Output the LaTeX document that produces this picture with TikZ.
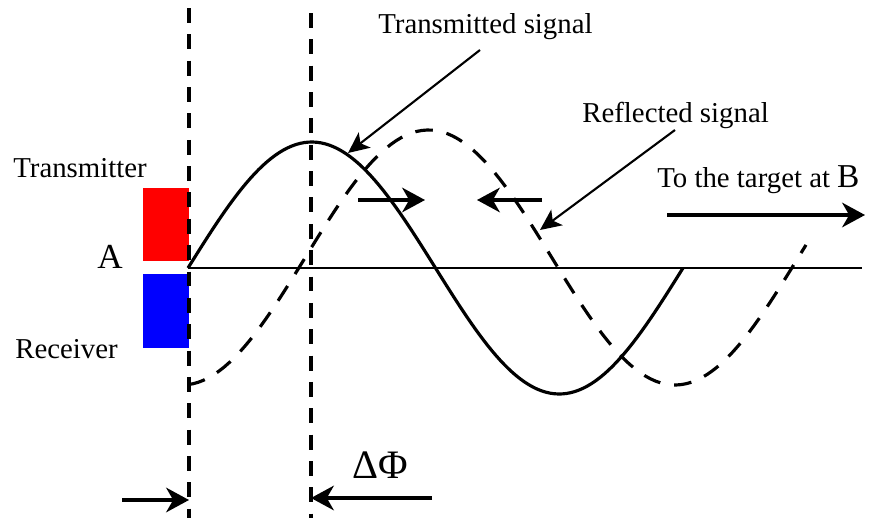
\documentclass[tikz,border=0pt]{standalone}
\usepackage{fontspec}
\setmainfont{Liberation Serif}
\usetikzlibrary{arrows.meta}
\begin{document}
\begin{tikzpicture}[x=0.02cm,y=-0.02cm,
  every node/.style={font=\fontsize{16.4}{18}\selectfont,inner sep=0pt},
  guide/.style={line width=1.8pt,dash pattern=on 8.5pt off 6.5pt},
  wave/.style={line width=1.8pt,line join=round},
  ptr/.style={-{Stealth[length=12pt,width=11pt,inset=3pt]},line width=1.2pt},
  mv/.style={-{Stealth[length=13pt,width=14pt,inset=4pt]},line width=1.8pt}]
  \useasboundingbox (0,0) rectangle (873,518);
  % transmitter and receiver
  \node[fill=red,minimum width=0.92cm,minimum height=1.46cm,anchor=north west] (tx) at (143,188) {};
  \node[fill=blue,minimum width=0.92cm,minimum height=1.48cm,anchor=north west] (rx) at (143,274) {};
  \node[anchor=base west] (txl) at (13,177) {Transmitter};
  \node[anchor=base west] (rxl) at (15,358) {Receiver};
  \node[anchor=base east,font=\fontsize{20}{22}\selectfont] (ptA) at (123,268) {A};
  % axis and the two guides
  \coordinate (o) at (188,268);
  \coordinate (axend) at (862,268);
  \draw[line width=1.7pt] (o) -- (axend);
  \coordinate (g1top) at (189,8);   \coordinate (g1bot) at (189,518);
  \coordinate (g2top) at (311,13);  \coordinate (g2bot) at (311,518);
  \draw[guide] (g1top) -- (g1bot);
  \draw[guide] (g2top) -- (g2bot);
  % signals
  \draw[wave] plot[domain=188:683,samples=120] (\x,{268-126*sin((\x-188)*0.72727)});
  \draw[wave,dash pattern=on 10pt off 8pt] plot[domain=188:806,samples=120] (\x,{257.5+127.5*cos((\x-182)*0.73022)});
  % labels and pointers
  \node[anchor=base west] (tsl) at (378,33) {Transmitted signal};
  \node[anchor=base west] (rsl) at (582,122) {Reflected signal};
  \node[anchor=base west] (tgt) at (657,187) {To the target at {\fontsize{19}{21}\selectfont B}};
  \coordinate (tsfrom) at (480,50);  \coordinate (tsto) at (348,153);
  \coordinate (rsfrom) at (675,130); \coordinate (rsto) at (540,230);
  \draw[ptr] (tsfrom) -- (tsto);
  \draw[ptr] (rsfrom) -- (rsto);
  % directions of travel
  \coordinate (r1) at (358,200); \coordinate (r2) at (425,200);
  \coordinate (l1) at (542,200); \coordinate (l2) at (477,200);
  \coordinate (t1) at (667,215); \coordinate (t2) at (865,215);
  \draw[mv] (r1) -- (r2);
  \draw[mv] (l1) -- (l2);
  \draw[mv] (t1) -- (t2);
  % phase difference
  \node[anchor=base west,font=\fontsize{23}{25}\selectfont] (dphi) at (352,478) {ΔΦ};
  \coordinate (p1) at (122,500); \coordinate (p2) at (432,498);
  \draw[mv] (p1) -- (g1bot |- p1);
  \draw[mv] (p2) -- (g2bot |- p2);
\end{tikzpicture}
\end{document}
